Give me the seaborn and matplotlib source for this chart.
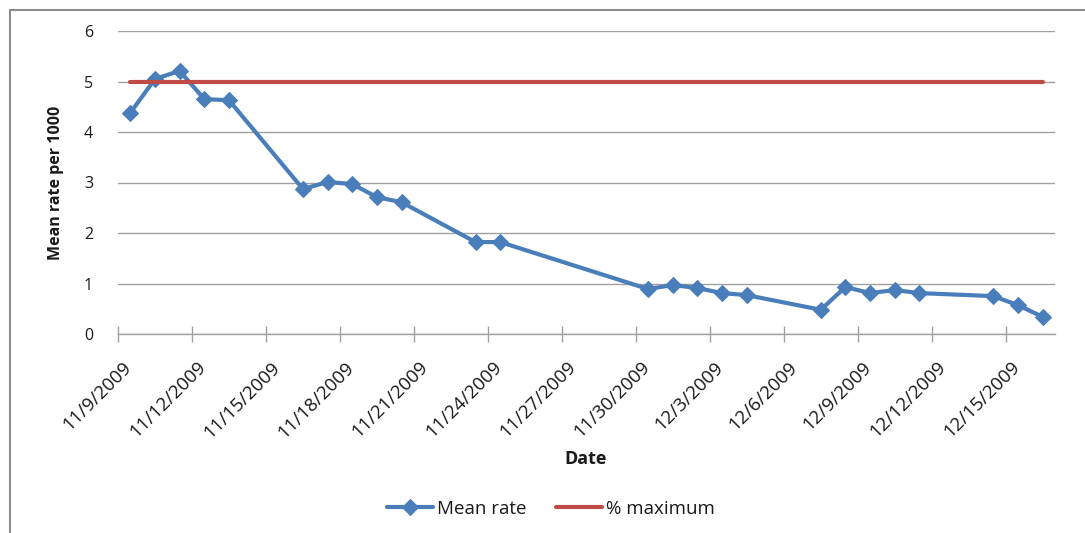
import pandas as pd
import numpy as np
import matplotlib
matplotlib.use("Agg")
import matplotlib.pyplot as plt
import matplotlib.transforms as mtransforms
import seaborn as sns

# DATA
dates = ["2009-11-09", "2009-11-10", "2009-11-11", "2009-11-12", "2009-11-13",
         "2009-11-16", "2009-11-17", "2009-11-18", "2009-11-19", "2009-11-20",
         "2009-11-23", "2009-11-24", "2009-11-30", "2009-12-01", "2009-12-02",
         "2009-12-03", "2009-12-04", "2009-12-07", "2009-12-08", "2009-12-09",
         "2009-12-10", "2009-12-11", "2009-12-14", "2009-12-15", "2009-12-16"]
mean_rate = [4.38, 5.05, 5.21, 4.65, 4.63,
             2.87, 3.01, 2.97, 2.71, 2.61,
             1.82, 1.82, 0.89, 0.97, 0.91,
             0.81, 0.77, 0.48, 0.93, 0.81,
             0.87, 0.81, 0.75, 0.57, 0.34]
pct_maximum = [5.0] * len(dates)
tick_dates = pd.date_range("2009-11-09", "2009-12-15", freq="3D")
y_ticks = [0, 1, 2, 3, 4, 5, 6]

# STYLE
sns.set_theme(style="white")
plt.rcParams["font.family"] = ["Open Sans", "DejaVu Sans"]

BLUE = "#4a7ebb"
RED = "#be4b48"
GRID = "#a0a0a0"
TXT = "#1a1a1a"

df = pd.DataFrame({
    "date": pd.to_datetime(dates) + pd.Timedelta(hours=12),  # points sit mid-day
    "Mean rate": mean_rate,
    "% maximum": pct_maximum,
})

fig = plt.figure(figsize=(10.85, 5.33), dpi=100)
ax = fig.add_axes([118 / 1085, 1 - 334 / 533, (1055 - 118) / 1085, (334 - 31) / 533])

# outer chart border
fig.patches.append(plt.Rectangle((10 / 1085, -0.05), 1.1, 1 - 10 / 533 + 0.05,
                                 transform=fig.transFigure, fill=False,
                                 edgecolor="#8c8c8c", linewidth=1.5, zorder=0))

sns.lineplot(data=df, x="date", y="Mean rate", ax=ax, color=BLUE, linewidth=3,
             marker="D", markersize=8, markeredgecolor=BLUE, label="Mean rate")
sns.lineplot(data=df, x="date", y="% maximum", ax=ax, color=RED, linewidth=3,
             label="% maximum")

ax.set_xlim(pd.Timestamp("2009-11-09"), pd.Timestamp("2009-12-17"))
ax.set_ylim(0, 6)
ax.set_yticks(y_ticks)
ax.set_yticklabels([str(v) for v in y_ticks], fontsize=11.5, color=TXT)
ax.yaxis.grid(True, color=GRID, linewidth=1)
ax.set_axisbelow(True)

ax.tick_params(axis="x", direction="inout", length=12, width=1, color=GRID, pad=16,
               bottom=True)
ax.tick_params(axis="y", length=0, pad=18)

ax.set_xticks(tick_dates)
ax.set_xticklabels([f"{d.month}/{d.day}/{d.year}" for d in tick_dates],
                   rotation=45, ha="right", va="center", rotation_mode="anchor",
                   fontsize=13.5, color=TXT)
# shift labels right a little, like Excel does (after tick_params, which resets transforms)
offset = mtransforms.ScaledTranslation(11 / 100, 0, fig.dpi_scale_trans)
for lbl in ax.get_xticklabels():
    lbl.set_transform(lbl.get_transform() + offset)

for side in ["top", "right", "left"]:
    ax.spines[side].set_visible(False)
ax.spines["bottom"].set_color(GRID)
ax.spines["bottom"].set_linewidth(1)

ax.set_xlabel("Date", fontsize=13, fontweight="bold", color=TXT)
ax.xaxis.set_label_coords((586 - 118) / (1055 - 118), -(450 - 334) / (334 - 31))
ax.set_ylabel("Mean rate per 1000", fontsize=11.5, fontweight="bold", color=TXT)
ax.yaxis.set_label_coords(-(118 - 64) / (1055 - 118), 0.5)

leg = ax.legend(loc="center", bbox_to_anchor=(551 / 1085, 1 - 509 / 533),
                bbox_transform=fig.transFigure, ncol=2, frameon=False,
                fontsize=13.5, handlelength=2.45, columnspacing=1.6, handletextpad=0.2)
for t in leg.get_texts():
    t.set_color(TXT)

fig.savefig("out.png", dpi=100)
